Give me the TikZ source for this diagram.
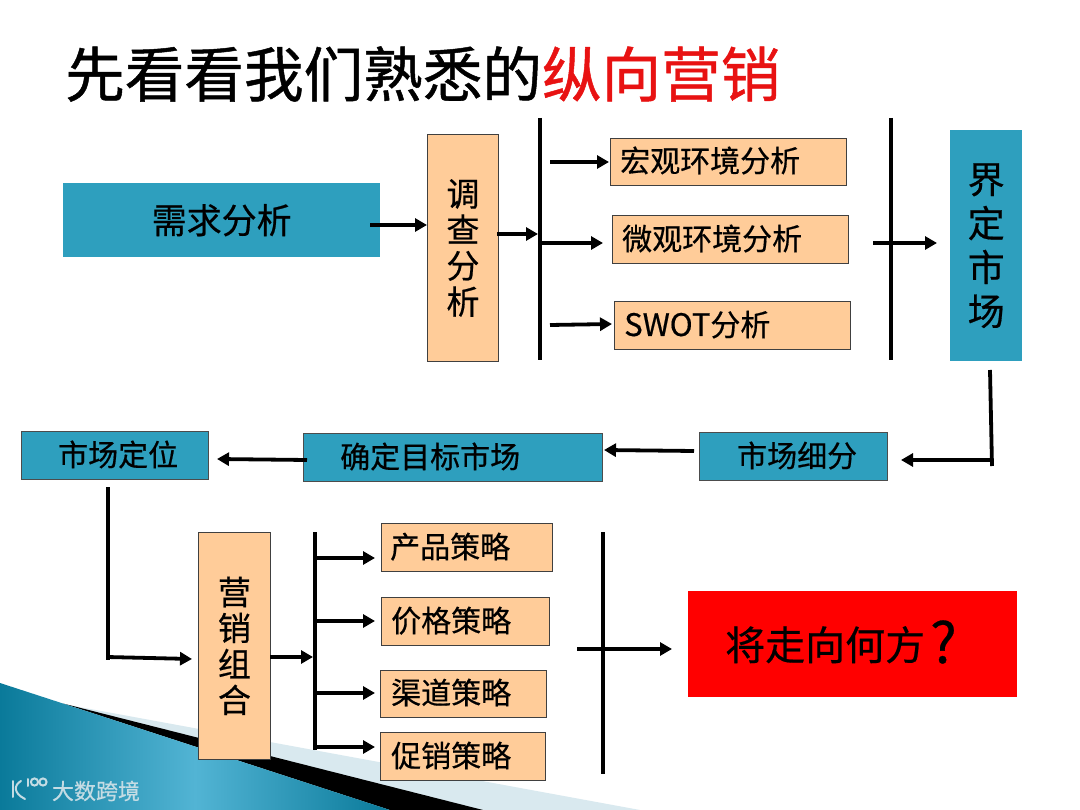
\documentclass[tikz,border=0pt]{standalone}
\usepackage{fontspec}
\setmainfont[FakeBold=0.5]{Noto Sans CJK SC}
\newfontfamily\titlefont[FakeBold=0.8]{Noto Sans CJK SC}
\usetikzlibrary{arrows.meta,calc}
\definecolor{peach}{HTML}{FFCC99}
\definecolor{tealbox}{HTML}{2E9FBE}
\definecolor{decolight}{HTML}{D9E9EF}
\definecolor{decodark}{HTML}{0A7A9A}
\definecolor{decomid}{HTML}{52B4D4}
\definecolor{titlered}{HTML}{E81212}
\definecolor{markcol}{HTML}{C4DCE4}
\newcommand{\fs}[2]{\fontsize{#1}{#2}\selectfont}
\tikzset{
  x=1pt,y=-1pt,
  peachbox/.style={draw=black!75,line width=0.9pt,fill=peach,inner sep=0pt,align=center,text=black},
  tealnode/.style={fill=tealbox,inner sep=0pt,align=center,text=black},
  tealframe/.style={draw=black!70,line width=0.9pt,fill=tealbox,inner sep=0pt,align=center,text=black},
  rednode/.style={fill=red,inner sep=0pt,align=center,text=black},
  stacksmall/.style={font=\fs{33}{36}},
  stacklarge/.style={font=\fs{37}{44}},
  bar/.style={line width=4pt,black},
  link/.style={line width=3.8pt,black,-{Triangle[length=12pt,width=13pt]}},
  plain/.style={line width=3.8pt,black},
  lbl/.style={inner sep=0pt,anchor=base west,text=black},
}
\newcommand{\boxat}[7]{%
  \node[#1,minimum width={#5-#3},minimum height={#6-#4},anchor=north west] (#2) at (#3,#4) {#7};}
\begin{document}
\begin{tikzpicture}
\useasboundingbox (0,0) rectangle (1080,810);
\fill[white] (0,0) rectangle (1080,810);
% corner decoration
\fill[decolight] (68.5,705) -- (640,810) -- (390,810) -- cycle;
\fill[black] (63,703.5) -- (483,810) -- (390,810) -- cycle;
\shade[left color=decodark,right color=decodark,middle color=decomid] (0,683) -- (390,810) -- (0,810) -- cycle;
% watermark
\begin{scope}[draw=markcol,line width=2pt,line cap=round]
  \draw (12.5,781) -- (12.5,797);
  \draw (21,781) .. controls (14,785) and (13,793) .. (25,799);
  \draw (27.5,779) -- (27.5,786);
  \draw (34.5,782) circle[radius=3.6];
  \draw (43,782) circle[radius=3.6];
\end{scope}
\node[inner sep=0pt,text=markcol] (mark) at (96,791) {\fs{22}{22}大数跨境};
% title
\node[inner sep=0pt,anchor=west] (title) at (65,74) {\titlefont\fs{59.6}{60}先看看我们熟悉的\textcolor{titlered}{纵向营销}};
% boxes
\boxat{tealnode}{need}{63}{183}{380}{257}{\fs{35}{35}需求分析}
\boxat{peachbox,stacksmall}{survey}{427}{134}{498}{361}{调\\查\\分\\析}
\boxat{peachbox}{macro}{610}{138}{846}{185}{}
\node[lbl] (macrotext) at (620,172) {\fs{30}{30}宏观环境分析};
\boxat{peachbox}{micro}{612}{215}{848}{263}{}
\node[lbl] (microtext) at (622,250) {\fs{30}{30}微观环境分析};
\boxat{peachbox}{swot}{614}{301}{850}{349}{}
\node[lbl] (swottext) at (624,336) {\fs{31}{30}SWOT\fs{30}{30}分析};
\boxat{tealnode,stacklarge}{define}{950}{130}{1022}{361}{界\\定\\市\\场}
\boxat{tealframe}{segment}{699}{432}{887}{480}{}
\node[lbl] (segmenttext) at (737,467) {\fs{30}{30}市场细分};
\boxat{tealframe}{target}{303}{433}{602}{481}{}
\node[lbl] (targettext) at (340,468) {\fs{30}{30}确定目标市场};
\boxat{tealframe}{position}{21}{431}{208}{479}{}
\node[lbl] (positiontext) at (58,466) {\fs{30}{30}市场定位};
\boxat{peachbox,stacksmall}{mix}{198}{532}{270}{759}{营\\销\\组\\合}
\boxat{peachbox}{product}{381}{523}{552}{571}{}
\node[lbl] (producttext) at (390,558) {\fs{30}{30}产品策略};
\boxat{peachbox}{price}{381}{597}{549}{645}{}
\node[lbl] (pricetext) at (391,632) {\fs{30}{30}价格策略};
\boxat{peachbox}{channel}{380}{670}{546}{717}{}
\node[lbl] (channeltext) at (391,704) {\fs{30}{30}渠道策略};
\boxat{peachbox}{promo}{380}{732}{545}{780}{}
\node[lbl] (promotext) at (391,767) {\fs{30}{30}促销策略};
\boxat{rednode}{where}{688}{591}{1017}{697}{}
\node[lbl] (wheretext) at (725,660) {\fs{40}{40}将走向何方\hspace{5pt}\fs{56}{56}\raisebox{-3pt}{?}};
% bars
\coordinate (b1t) at (540,118); \coordinate (b1b) at (540,360);
\coordinate (b2t) at (891,118); \coordinate (b2b) at (891,360);
\coordinate (b3t) at (315,532); \coordinate (b3b) at (315,750);
\coordinate (b4t) at (603,532); \coordinate (b4b) at (603,774);
\draw[bar] (b1t) -- (b1b);
\draw[bar] (b2t) -- (b2b);
\draw[bar] (b3t) -- (b3b);
\draw[bar] (b4t) -- (b4b);
% connectors
\coordinate (a1) at (370,225); \coordinate (a1e) at (427,225);
\draw[link] (a1) -- (a1e);
\coordinate (a2) at (497,234); \coordinate (a2e) at (538,234);
\draw[link] (a2) -- (a2e);
\coordinate (a3) at (550,162); \coordinate (a3e) at (609,162);
\draw[link] (a3) -- (a3e);
\coordinate (a4) at (540,243); \coordinate (a4e) at (603,243);
\draw[link] (a4) -- (a4e);
\coordinate (a5) at (550,325); \coordinate (a5e) at (612,324);
\draw[link] (a5) -- (a5e);
\coordinate (a6) at (873,243); \coordinate (a6e) at (937,243);
\draw[link] (a6) -- (a6e);
\coordinate (c1) at (990,370); \coordinate (c2) at (992,466); \coordinate (c3) at (992,460); \coordinate (c4) at (901,460);
\draw[plain] (c1) -- (c2);
\draw[link] (c3) -- (c4);
\coordinate (d1) at (694,451); \coordinate (d1e) at (604,450);
\draw[link] (d1) -- (d1e);
\coordinate (d2) at (307,460); \coordinate (d2e) at (217,459);
\draw[link] (d2) -- (d2e);
\coordinate (e1) at (108,487); \coordinate (e2) at (108,660); \coordinate (e3) at (107,657); \coordinate (e4) at (192,659);
\draw[plain] (e1) -- (e2);
\draw[link] (e3) -- (e4);
\coordinate (f1) at (270,657); \coordinate (f1e) at (313,657);
\draw[link] (f1) -- (f1e);
\coordinate (g1) at (315,558); \coordinate (g1e) at (375,558);
\draw[link] (g1) -- (g1e);
\coordinate (g2) at (315,621); \coordinate (g2e) at (375,621);
\draw[link] (g2) -- (g2e);
\coordinate (g3) at (315,693); \coordinate (g3e) at (375,693);
\draw[link] (g3) -- (g3e);
\coordinate (g4) at (315,747); \coordinate (g4e) at (375,747);
\draw[link] (g4) -- (g4e);
\coordinate (h1) at (577,649); \coordinate (h1e) at (672,649);
\draw[link] (h1) -- (h1e);
\end{tikzpicture}
\end{document}
